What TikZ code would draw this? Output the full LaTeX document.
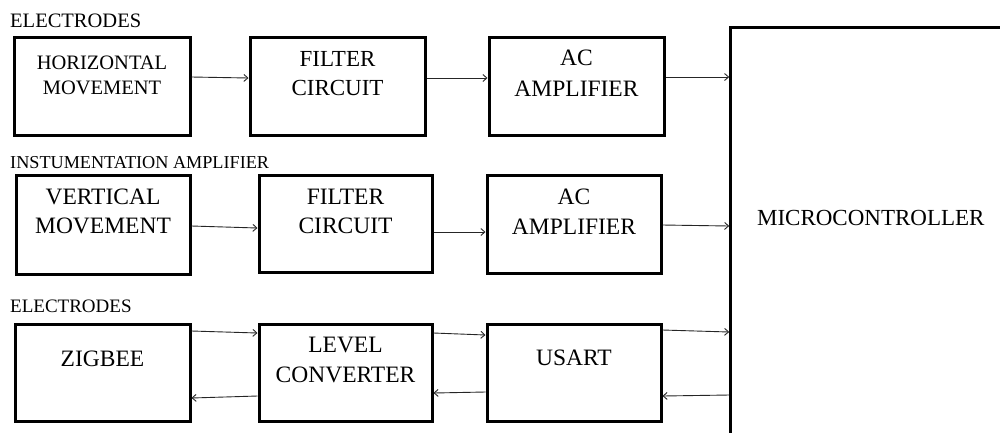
\documentclass[tikz,border=0pt]{standalone}
\usepackage{fontspec}
\setmainfont{Liberation Serif}
\usetikzlibrary{arrows.meta}
\begin{document}
\begin{tikzpicture}[x=1pt,y=-1pt,
  box/.style={draw, line width=3pt, inner sep=0pt},
  txt/.style={inner sep=0pt, align=center},
  lab/.style={inner sep=0pt, anchor=base west},
  arr/.style={line width=0.9pt, draw=black!85, -{Straight Barb[length=4pt,width=7pt]}},
  big/.style={font=\fontsize{23.5}{29}\selectfont}]
\useasboundingbox (0,0) rectangle (1000,432);
\fill[white] (0,0) rectangle (1000,432);

% microcontroller (cut off at right and bottom)
\begin{scope}
\clip (0,0) rectangle (1000,432);
\node[box, minimum width=289.3pt, minimum height=422.5pt] (mc) at (875.35,238.75) {};
\end{scope}
\node[txt, font=\fontsize{23}{28}\selectfont] (mct) at (870.8,218) {MICROCONTROLLER};

% labels
\node[lab, font=\fontsize{20.5}{24}\selectfont] (l1) at (10,27) {ELECTRODES};
\node[lab, font=\fontsize{18.2}{22}\selectfont] (l2) at (10,168) {INSTUMENTATION AMPLIFIER};
\node[lab, font=\fontsize{19}{23}\selectfont] (l3) at (10,312) {ELECTRODES};

% row 1
\node[box, minimum width=176pt, minimum height=98pt] (hm) at (102,86) {};
\node[box, minimum width=175pt, minimum height=98pt] (fc1) at (337.5,86) {};
\node[box, minimum width=175pt, minimum height=98pt] (ac1) at (576.5,86) {};
\node[txt, font=\fontsize{20.5}{25}\selectfont] (hmt) at (102,75.5) {HORIZONTAL\\MOVEMENT};
\node[txt, font=\fontsize{23}{29}\selectfont] (fc1t) at (337.5,73.5) {FILTER\\CIRCUIT};
\node[txt, font=\fontsize{23.5}{31}\selectfont] (ac1t) at (576.5,73.5) {AC\\AMPLIFIER};

% row 2
\node[box, minimum width=174pt, minimum height=99pt] (vm) at (103,224.5) {};
\node[box, minimum width=173pt, minimum height=97pt] (fc2) at (345.5,223.5) {};
\node[box, minimum width=174pt, minimum height=98pt] (ac2) at (574,224) {};
\node[txt, big] (vmt) at (103,211.5) {VERTICAL\\MOVEMENT};
\node[txt, big] (fc2t) at (345.5,211) {FILTER\\CIRCUIT};
\node[txt, big, font=\fontsize{23.5}{30}\selectfont] (ac2t) at (574,212) {AC\\AMPLIFIER};

% row 3
\node[box, minimum width=175pt, minimum height=97pt] (zb) at (102.5,372.5) {};
\node[box, minimum width=173pt, minimum height=97pt] (lc) at (345.5,372.5) {};
\node[box, minimum width=174pt, minimum height=97pt] (us) at (574,372.5) {};
\node[txt, big] (zbt) at (102.5,359) {ZIGBEE};
\node[txt, big, font=\fontsize{23.5}{30}\selectfont] (lct) at (345.5,360) {LEVEL\\CONVERTER};
\node[txt, big] (ust) at (574,358) {USART};

% arrows row 1
\draw[arr] ([yshift=9pt]hm.east) -- ([yshift=8pt]fc1.west);
\draw[arr] ([yshift=8pt]fc1.east) -- ([yshift=8pt]ac1.west);
\draw[arr] ([yshift=9pt]ac1.east) -- ([yshift=161.75pt]mc.west);
% arrows row 2
\draw[arr] ([yshift=-1.5pt]vm.east) -- ([yshift=-4.5pt]fc2.west);
\draw[arr] ([yshift=-8.5pt]fc2.east) -- ([yshift=-8pt]ac2.west);
\draw[arr] ([yshift=-1pt]ac2.east) -- ([yshift=12.75pt]mc.west);
% arrows row 3
\draw[arr] ([yshift=41.5pt]zb.east) -- ([yshift=39.5pt]lc.west);
\draw[arr] ([yshift=-23.5pt]lc.west) -- ([yshift=-25.5pt]zb.east);
\draw[arr] ([yshift=39.5pt]lc.east) -- ([yshift=37.5pt]us.west);
\draw[arr] ([yshift=-19.5pt]us.west) -- ([yshift=-20.5pt]lc.east);
\draw[arr] ([yshift=42.5pt]us.east) -- ([yshift=-93.25pt]mc.west);
\draw[arr] ([yshift=-156.25pt]mc.west) -- ([yshift=-23.5pt]us.east);
\end{tikzpicture}
\end{document}
